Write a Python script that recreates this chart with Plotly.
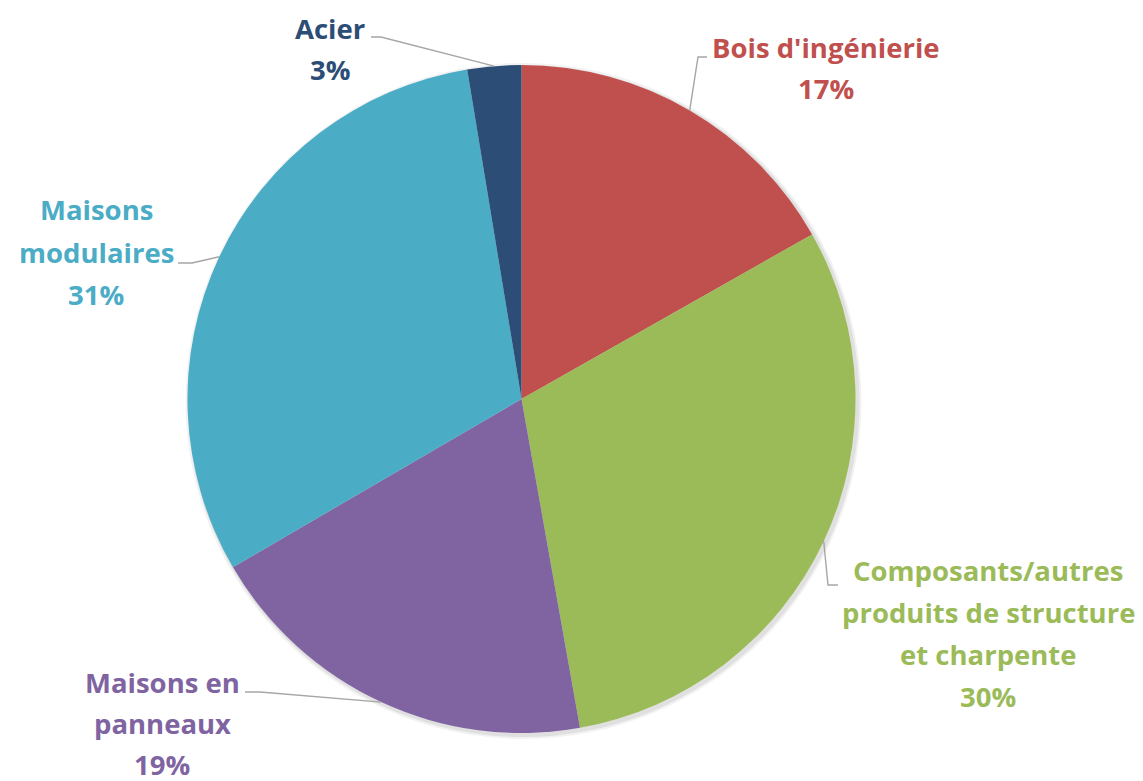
import math
import plotly.graph_objects as go

# ---------------- data ----------------
categories = ["Bois d'ingénierie", "Composants/autres produits de structure et charpente",
              "Maisons en panneaux", "Maisons modulaires", "Acier"]
values = [16.8, 30.4, 19.4, 30.8, 2.6]
pct_labels = ["17%", "30%", "19%", "31%", "3%"]
label_lines = [["Bois d'ingénierie"],
               ["Composants/autres", "produits de structure", "et charpente"],
               ["Maisons en", "panneaux"],
               ["Maisons", "modulaires"],
               ["Acier"]]
colors = ["#C0504D", "#9BBB59", "#8064A2", "#4BACC6", "#2C4D75"]

# ---------------- layout constants (window pixels) ----------------
OFF = 8                      # page body margin
W, H = 1143 - OFF, 781 - OFF  # figure size
CX, CY, R = 521.5, 399.0, 334.0
# label centre x, first-line centre y and line spacing per label
label_pos = [(826, 47), (988, 570), (162, 682), (96, 210), (330, 28)]
line_steps = [42, 42, 41, 42, 42]
# leader lines: elbow point and label end point
elbows = [((698, 57), (707, 57)),
          ((828, 585), (838, 585)),
          ((260, 692), (245, 692)),
          ((192, 263), (178, 263)),
          ((381, 37), (371, 37))]


def px(x):
    return (x - OFF) / W


def py(y):
    return 1 - (y - OFF) / H


fig = go.Figure()

# soft shadow behind pie
for extra, op in [(4, 0.05), (2, 0.07)]:
    fig.add_shape(type="circle", xref="paper", yref="paper",
                  x0=px(CX - R - extra + 2), x1=px(CX + R + extra + 2),
                  y0=py(CY + R + extra + 2), y1=py(CY - R - extra + 2),
                  line=dict(width=0), fillcolor=f"rgba(0,0,0,{op})", layer="below")

fig.add_trace(go.Pie(
    labels=categories, values=values, sort=False, direction="clockwise", rotation=0,
    marker=dict(colors=colors, line=dict(width=0)),
    textinfo="none", hoverinfo="label+percent", showlegend=False,
    domain=dict(x=[px(CX - R), px(CX + R)], y=[py(CY + R), py(CY - R)]),
))

total = sum(values)
cum = 0.0
annotations = []
for i, v in enumerate(values):
    mid = (cum + v / 2) / total * 2 * math.pi
    cum += v
    ex = CX + R * math.sin(mid)
    ey = CY - R * math.cos(mid)
    (bx, by), (lx, ly) = elbows[i]
    fig.add_shape(type="path", xref="paper", yref="paper",
                  path=f"M {px(ex)} {py(ey)} L {px(bx)} {py(by)} L {px(lx)} {py(ly)}",
                  line=dict(color="#A6A6A6", width=1.4))
    lines = label_lines[i] + [pct_labels[i]]
    x0, y0 = label_pos[i]
    for k, t in enumerate(lines):
        annotations.append(dict(
            x=px(x0), y=py(y0 + k * line_steps[i]), xref="paper", yref="paper",
            text=t, showarrow=False, xanchor="center", yanchor="middle",
            font=dict(family="Open Sans", size=27.5, color=colors[i], weight="bold")))

fig.update_layout(width=W, height=H, margin=dict(l=0, r=0, t=0, b=0),
                  paper_bgcolor="white", plot_bgcolor="white",
                  annotations=annotations)
fig.write_html("out.html")
